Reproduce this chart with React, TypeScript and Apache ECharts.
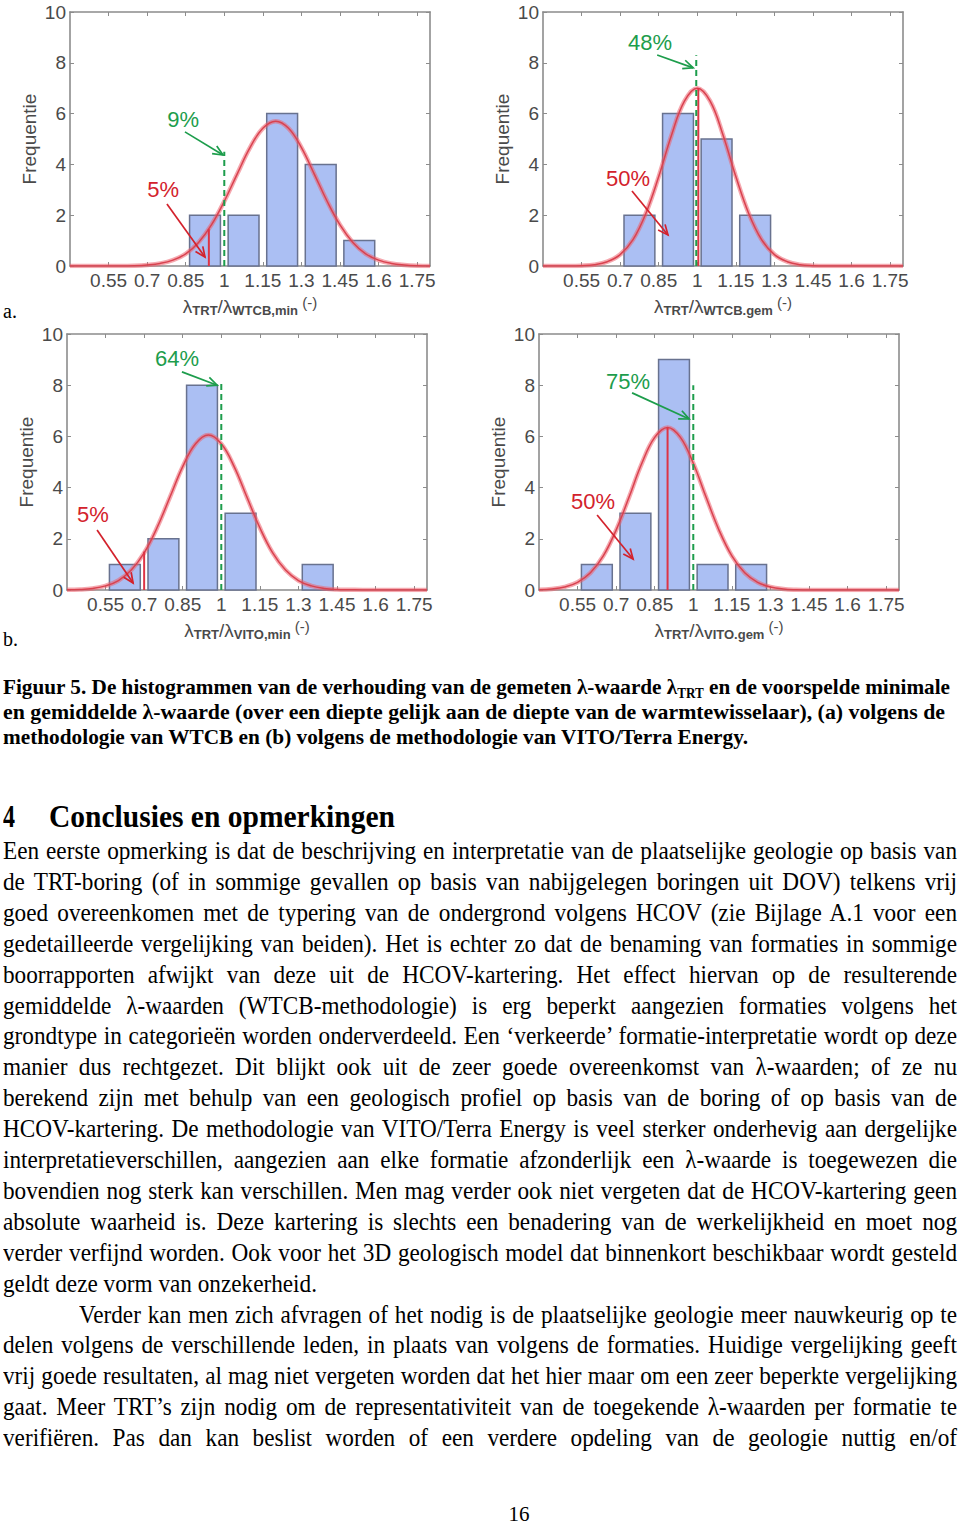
import React, { useEffect, useLayoutEffect, useRef } from "react";
import * as echarts from "echarts";

// ---------------- data ----------------
const X_TICKS = [0.55, 0.7, 0.85, 1, 1.15, 1.3, 1.45, 1.6, 1.75];
const BIN_CENTERS = [0.625, 0.775, 0.925, 1.075, 1.225, 1.375, 1.525];
const BIN_WIDTH = 0.15;

const COUNTS_WTCB_MIN = [0, 0, 2, 2, 6, 4, 1];
const COUNTS_WTCB_GEM = [0, 2, 6, 5, 2, 0, 0];
const COUNTS_VITO_MIN = [1, 2, 8, 3, 0, 1, 0];
const COUNTS_VITO_GEM = [1, 3, 9, 1, 1, 0, 0];

const CURVE_X = [
  0.4, 0.45, 0.5, 0.55, 0.6, 0.65, 0.7, 0.75, 0.8, 0.85, 0.9, 0.95, 1.0, 1.05, 1.1,
  1.15, 1.2, 1.25, 1.3, 1.35, 1.4, 1.45, 1.5, 1.55, 1.6, 1.65, 1.7, 1.75, 1.8,
];
const CURVE_WTCB_MIN = [
  0, 0, 0, 0, 0, 0.01, 0.04, 0.1, 0.23, 0.48, 0.93, 1.62, 2.55, 3.62, 4.66,
  5.42, 5.7, 5.42, 4.66, 3.62, 2.55, 1.62, 0.93, 0.48, 0.23, 0.1, 0.04, 0.01, 0,
];
const CURVE_WTCB_GEM = [
  0, 0, 0, 0.01, 0.05, 0.17, 0.45, 1.04, 2.07, 3.52, 5.16, 6.49, 7.0, 6.49, 5.16,
  3.52, 2.07, 1.04, 0.45, 0.17, 0.05, 0.01, 0, 0, 0, 0, 0, 0, 0,
];
const CURVE_VITO_MIN = [
  0.01, 0.02, 0.06, 0.16, 0.37, 0.78, 1.45, 2.43, 3.62, 4.82, 5.71, 6.05, 5.71, 4.82, 3.62,
  2.43, 1.45, 0.78, 0.37, 0.16, 0.06, 0.02, 0.01, 0, 0, 0, 0, 0, 0,
];
const CURVE_VITO_GEM = [
  0.01, 0.04, 0.12, 0.3, 0.67, 1.33, 2.34, 3.62, 4.95, 5.96, 6.35, 5.96, 4.95, 3.62, 2.34,
  1.33, 0.67, 0.3, 0.12, 0.04, 0.01, 0, 0, 0, 0, 0, 0, 0, 0,
];

const COUNTS = [COUNTS_WTCB_MIN, COUNTS_WTCB_GEM, COUNTS_VITO_MIN, COUNTS_VITO_GEM];
const CURVES = [CURVE_WTCB_MIN, CURVE_WTCB_GEM, CURVE_VITO_MIN, CURVE_VITO_GEM];

const RED_X = [0.94, 1.004, 0.7, 0.9];
const RED_TOP = [1.45, 7.0, 1.5, 6.35];
const GREEN_X = [1.0, 0.996, 1.0, 1.0];
const GREEN_TOP = [4.5, 8.3, 8.05, 8.0];

const GREEN_PCT = ["9%", "48%", "64%", "75%"];
const RED_PCT = ["5%", "50%", "5%", "50%"];
const X_NAME_SUB = ["WTCB,min", "WTCB.gem", "VITO,min", "VITO.gem"];
const Y_NAME = "Frequentie";

// annotation anchor positions, in data coordinates: [textX, textY, arrowX1, arrowY1, arrowX2, arrowY2]
const GREEN_ANNOT = [
  [0.84, 5.75, 0.847, 5.28, 0.995, 4.37],
  [0.816, 8.78, 0.844, 8.31, 0.984, 7.8],
  [0.828, 9.06, 0.847, 8.52, 0.984, 8.0],
  [0.746, 8.13, 0.762, 7.7, 0.984, 6.68],
];
const RED_ANNOT = [
  [0.762, 3.03, 0.777, 2.44, 0.925, 0.35],
  [0.731, 3.46, 0.746, 2.95, 0.886, 1.22],
  [0.501, 2.93, 0.517, 2.34, 0.657, 0.27],
  [0.61, 3.44, 0.626, 2.93, 0.766, 1.21],
];

// ---------------- text ----------------
const CAPTION_LINES = [
  ["Figuur 5. De histogrammen van de verhouding van de gemeten λ-waarde λ", "TRT", " en de voorspelde minimale"],
  ["en gemiddelde λ-waarde (over een diepte gelijk aan de diepte van de warmtewisselaar), (a) volgens de"],
  ["methodologie van WTCB en (b) volgens de methodologie van VITO/Terra Energy."],
];
const HEADING_NUM = "4";
const HEADING = "Conclusies en opmerkingen";
const BODY_LINES = [
  "Een eerste opmerking is dat de beschrijving en interpretatie van de plaatselijke geologie op basis van",
  "de TRT-boring (of in sommige gevallen op basis van nabijgelegen boringen uit DOV) telkens vrij",
  "goed overeenkomen met de typering van de ondergrond volgens HCOV (zie Bijlage A.1 voor een",
  "gedetailleerde vergelijking van beiden). Het is echter zo dat de benaming van formaties in sommige",
  "boorrapporten afwijkt van deze uit de HCOV-kartering. Het effect hiervan op de resulterende",
  "gemiddelde λ-waarden (WTCB-methodologie) is erg beperkt aangezien formaties volgens het",
  "grondtype in categorieën worden onderverdeeld. Een ‘verkeerde’ formatie-interpretatie wordt op deze",
  "manier dus rechtgezet. Dit blijkt ook uit de zeer goede overeenkomst van λ-waarden; of ze nu",
  "berekend zijn met behulp van een geologisch profiel op basis van de boring of op basis van de",
  "HCOV-kartering. De methodologie van VITO/Terra Energy is veel sterker onderhevig aan dergelijke",
  "interpretatieverschillen, aangezien aan elke formatie afzonderlijk een λ-waarde is toegewezen die",
  "bovendien nog sterk kan verschillen. Men mag verder ook niet vergeten dat de HCOV-kartering geen",
  "absolute waarheid is. Deze kartering is slechts een benadering van de werkelijkheid en moet nog",
  "verder verfijnd worden. Ook voor het 3D geologisch model dat binnenkort beschikbaar wordt gesteld",
  "geldt deze vorm van onzekerheid.",
  "Verder kan men zich afvragen of het nodig is de plaatselijke geologie meer nauwkeurig op te",
  "delen volgens de verschillende leden, in plaats van volgens de formaties. Huidige vergelijking geeft",
  "vrij goede resultaten, al mag niet vergeten worden dat het hier maar om een zeer beperkte vergelijking",
  "gaat. Meer TRT’s zijn nodig om de representativiteit van de toegekende λ-waarden per formatie te",
  "verifiëren. Pas dan kan beslist worden of een verdere opdeling van de geologie nuttig en/of",
];
const PAGE_NUMBER = "16";

// ---------------- chart ----------------
const SANS = '"Liberation Sans", Arial, Helvetica, sans-serif';
const AXIS_COLOR = "#8c8c8c";
const LABEL_COLOR = "#4a4a4a";
const GREEN = "#1d9d4c";
const RED = "#d3222c";

const GRIDS = [
  { left: 70, top: 12, width: 360, height: 254 },
  { left: 543, top: 12, width: 360, height: 254 },
  { left: 67, top: 334, width: 360, height: 256 },
  { left: 539, top: 334, width: 360, height: 256 },
];

function buildOption() {
  const xAxis: any[] = [];
  const yAxis: any[] = [];
  const series: any[] = [];
  GRIDS.forEach((_, i) => {
    const common = {
      type: "value",
      gridIndex: i,
      splitLine: { show: false },
      axisLine: { show: true, onZero: false, lineStyle: { color: AXIS_COLOR, width: 1.6 } },
    };
    xAxis.push({
      ...common,
      min: 0.4,
      max: 1.8,
      position: "bottom",
      axisTick: { show: true, inside: true, length: 4, customValues: X_TICKS, lineStyle: { color: AXIS_COLOR } },
      axisLabel: {
        show: true,
        customValues: X_TICKS,
        color: LABEL_COLOR,
        fontSize: 19,
        fontFamily: SANS,
        margin: 5,
        formatter: (v: number) => String(+Number(v).toFixed(2)),
      },
      name: `{l|λ}{s|TRT}{l|/λ}{s|${X_NAME_SUB[i]}}{p| (-)}`,
      nameLocation: "middle",
      nameGap: 29,
      nameTextStyle: {
        color: LABEL_COLOR,
        fontFamily: SANS,
        rich: {
          l: { fontSize: 19, lineHeight: 22, color: LABEL_COLOR, fontFamily: SANS, verticalAlign: "middle" },
          s: { fontSize: 13, lineHeight: 13, color: LABEL_COLOR, fontFamily: SANS, fontWeight: "bold", verticalAlign: "bottom" },
          p: { fontSize: 15, lineHeight: 15, color: LABEL_COLOR, fontFamily: SANS, verticalAlign: "top" },
        },
      },
    });
    xAxis.push({
      ...common,
      min: 0.4,
      max: 1.8,
      position: "top",
      axisTick: { show: true, inside: true, length: 4, customValues: X_TICKS, lineStyle: { color: AXIS_COLOR } },
      axisLabel: { show: false },
    });
    yAxis.push({
      ...common,
      min: 0,
      max: 10,
      interval: 2,
      position: "left",
      axisTick: { show: true, inside: true, length: 4, lineStyle: { color: AXIS_COLOR } },
      axisLabel: { show: true, color: LABEL_COLOR, fontSize: 19, fontFamily: SANS, margin: 4 },
      name: Y_NAME,
      nameLocation: "middle",
      nameGap: 31,
      nameRotate: 90,
      nameTextStyle: { color: LABEL_COLOR, fontSize: 19, fontFamily: SANS },
    });
    yAxis.push({
      ...common,
      min: 0,
      max: 10,
      interval: 2,
      position: "right",
      axisTick: { show: true, inside: true, length: 4, lineStyle: { color: AXIS_COLOR } },
      axisLabel: { show: false },
    });

    const xi = 2 * i;
    const yi = 2 * i;
    const bars = BIN_CENTERS.map((c, j) => [c, COUNTS[i][j]]).filter((d) => d[1] > 0);
    series.push({
      type: "custom",
      xAxisIndex: xi,
      yAxisIndex: yi,
      z: 1,
      data: bars,
      encode: { x: 0, y: 1 },
      renderItem: (_p: any, api: any) => {
        const c = api.value(0);
        const h = api.value(1);
        const half = BIN_WIDTH * 0.4;
        const a = api.coord([c - half, h]);
        const b = api.coord([c + half, 0]);
        return {
          type: "rect",
          shape: { x: a[0], y: a[1], width: b[0] - a[0], height: b[1] - a[1] },
          style: { fill: "#abbff3", stroke: "#68728f", lineWidth: 1.5 },
        };
      },
    });
    series.push({
      type: "line",
      xAxisIndex: xi,
      yAxisIndex: yi,
      z: 2,
      smooth: 0.4,
      showSymbol: false,
      data: CURVE_X.map((x, k) => [x, CURVES[i][k]]),
      lineStyle: { color: "rgba(236,96,110,0.55)", width: 4.5 },
    });
    series.push({
      type: "line",
      xAxisIndex: xi,
      yAxisIndex: yi,
      z: 3,
      smooth: 0.4,
      showSymbol: false,
      data: CURVE_X.map((x, k) => [x, CURVES[i][k]]),
      lineStyle: { color: "#d9424f", width: 1.5 },
    });
    series.push({
      type: "line",
      xAxisIndex: xi,
      yAxisIndex: yi,
      z: 4,
      showSymbol: false,
      data: [
        [RED_X[i], 0],
        [RED_X[i], RED_TOP[i]],
      ],
      lineStyle: { color: "#dd3445", width: 2 },
    });
    series.push({
      type: "line",
      xAxisIndex: xi,
      yAxisIndex: yi,
      z: 5,
      showSymbol: false,
      data: [
        [GREEN_X[i], 0],
        [GREEN_X[i], GREEN_TOP[i]],
      ],
      lineStyle: { color: GREEN, width: 2, type: [6, 4] },
    });
    series.push({
      type: "custom",
      xAxisIndex: xi,
      yAxisIndex: yi,
      z: 6,
      clip: false,
      data: [GREEN_ANNOT[i], RED_ANNOT[i]],
      encode: { x: [0, 2, 4], y: [1, 3, 5] },
      renderItem: (p: any, api: any) => {
        const isGreen = p.dataIndex === 0;
        const color = isGreen ? GREEN : RED;
        const text = isGreen ? GREEN_PCT[i] : RED_PCT[i];
        const t = api.coord([api.value(0), api.value(1)]);
        const p1 = api.coord([api.value(2), api.value(3)]);
        const p2 = api.coord([api.value(4), api.value(5)]);
        const dx = p2[0] - p1[0];
        const dy = p2[1] - p1[1];
        const len = Math.hypot(dx, dy) || 1;
        const ux = dx / len;
        const uy = dy / len;
        const L = 11;
        const ang = 0.42;
        const cs = Math.cos(ang);
        const sn = Math.sin(ang);
        const l = [p2[0] - L * (ux * cs - uy * sn), p2[1] - L * (uy * cs + ux * sn)];
        const r = [p2[0] - L * (ux * cs + uy * sn), p2[1] - L * (uy * cs - ux * sn)];
        return {
          type: "group",
          children: [
            { type: "line", shape: { x1: p1[0], y1: p1[1], x2: p2[0], y2: p2[1] }, style: { stroke: color, lineWidth: 1.7 } },
            { type: "polyline", shape: { points: [l, p2, r] }, style: { stroke: color, fill: "none", lineWidth: 1.7 } },
            {
              type: "text",
              style: {
                text,
                x: t[0],
                y: t[1],
                fill: color,
                fontSize: 22,
                fontFamily: SANS,
                align: "center",
                verticalAlign: "middle",
              },
            },
          ],
        };
      },
    });
  });
  return {
    animation: false,
    backgroundColor: "transparent",
    grid: GRIDS.map((g) => ({ ...g, containLabel: false })),
    xAxis,
    yAxis,
    series,
  };
}

function Charts() {
  const ref = useRef<HTMLDivElement>(null);
  useEffect(() => {
    const chart = echarts.init(ref.current!, null, { renderer: "svg" });
    chart.setOption(buildOption() as any);
    return () => chart.dispose();
  }, []);
  return <div ref={ref} style={{ position: "absolute", left: 0, top: 0, width: 960, height: 660 }} />;
}

// ---------------- text layout ----------------
const SERIF = '"Liberation Serif", "Times New Roman", Times, serif';

type LineProps = {
  x: number;
  cy: number;
  lh: number;
  font: string;
  w?: number;
  mode?: "justify" | "fit" | "none";
  group?: string;
  isRef?: boolean;
  children: React.ReactNode;
};

function Line({ x, cy, lh, font, w, mode = "none", group, isRef, children }: LineProps) {
  return (
    <div
      data-fit={mode}
      data-w={w}
      data-group={group}
      data-ref={isRef ? "1" : undefined}
      style={{
        position: "absolute",
        left: x,
        top: cy - lh / 2,
        height: lh,
        lineHeight: `${lh}px`,
        width: "max-content",
        whiteSpace: "pre",
        font,
        color: "#000",
        transformOrigin: "0 0",
      }}
    >
      {children}
    </div>
  );
}

export default function App() {
  const ref = useRef<HTMLDivElement>(null);
  useLayoutEffect(() => {
    const root = ref.current!;
    const apply = () => {
      const els = Array.from(root.querySelectorAll<HTMLElement>("[data-fit]"));
      els.forEach((el) => {
        el.style.transform = "";
        el.style.wordSpacing = "";
      });
      const groups: Record<string, number> = {};
      els.forEach((el) => {
        if (el.dataset.ref && el.dataset.group) {
          groups[el.dataset.group] = Number(el.dataset.w) / el.getBoundingClientRect().width;
        }
      });
      els.forEach((el) => {
        const mode = el.dataset.fit;
        if (mode === "none") return;
        const w = el.getBoundingClientRect().width;
        const target = Number(el.dataset.w);
        if (!w || !target) return;
        if (mode === "justify") {
          const s = groups[el.dataset.group || ""] ?? 1;
          const n = ((el.textContent || "").match(/ /g) || []).length;
          if (w * s <= target && n > 0) {
            el.style.wordSpacing = `${(target / s - w) / n}px`;
            el.style.transform = `scaleX(${s})`;
          } else {
            el.style.transform = `scaleX(${target / w})`;
          }
        } else {
          el.style.transform = `scaleX(${target / w})`;
        }
      });
    };
    apply();
    const f = (document as any).fonts;
    if (f && f.ready) f.ready.then(apply);
  }, []);

  const bodyFont = `25px ${SERIF}`;
  const capFont = `bold 22px ${SERIF}`;
  const capCy = [687, 712, 737];
  const capW = [947, 942, 745];
  const bodyCy = (i: number) => 852 + i * 30.9;

  return (
    <div
      ref={ref}
      style={{ position: "absolute", left: 0, top: 0, width: 960, height: 1529, background: "#fff", overflow: "hidden" }}
    >
      <Charts />
      <Line x={3} cy={314} lh={28} font={`20px ${SERIF}`}>a.</Line>
      <Line x={3} cy={642} lh={28} font={`20px ${SERIF}`}>b.</Line>

      {CAPTION_LINES.map((parts, i) => (
        <Line key={"c" + i} x={3} cy={capCy[i]} lh={26} font={capFont} w={capW[i]} mode="fit">
          {parts.length === 3 ? (
            <>
              {parts[0]}
              <span style={{ fontSize: "0.62em", position: "relative", top: "0.28em" }}>{parts[1]}</span>
              {parts[2]}
            </>
          ) : (
            parts[0]
          )}
        </Line>
      ))}

      <Line x={3} cy={817} lh={36} font={`bold 31px ${SERIF}`} w={12} mode="fit">
        {HEADING_NUM}
      </Line>
      <Line x={49} cy={817} lh={36} font={`bold 31px ${SERIF}`} w={346} mode="fit">
        {HEADING}
      </Line>

      {BODY_LINES.map((t, i) => {
        const isLastP1 = i === 14;
        const isFirstP2 = i === 15;
        return (
          <Line
            key={"b" + i}
            x={isFirstP2 ? 79 : 3}
            cy={bodyCy(i)}
            lh={30}
            font={bodyFont}
            w={isLastP1 ? 314 : isFirstP2 ? 878 : 954}
            mode={isLastP1 ? "fit" : "justify"}
            group="body"
            isRef={isLastP1}
          >
            {t}
          </Line>
        );
      })}

      <div
        style={{
          position: "absolute",
          left: 479,
          width: 80,
          top: 1516 - 14,
          height: 28,
          lineHeight: "28px",
          textAlign: "center",
          font: `21px ${SERIF}`,
          color: "#000",
        }}
      >
        {PAGE_NUMBER}
      </div>
    </div>
  );
}
